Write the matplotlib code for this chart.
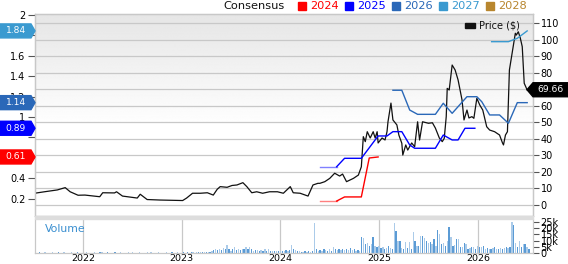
import numpy as np
import matplotlib
matplotlib.use("Agg")
import matplotlib.pyplot as plt
from matplotlib.patches import Polygon, Rectangle

plt.rcParams['font.family'] = ['DejaVu Sans']

# price ($), right axis
price_t = [2021.51, 2021.61, 2021.74, 2021.82, 2021.87, 2021.95, 2022.02, 2022.17, 2022.20, 2022.32,
           2022.34, 2022.40, 2022.55, 2022.58, 2022.65, 2022.78, 2023.01, 2023.05, 2023.11, 2023.19,
           2023.26, 2023.32, 2023.36, 2023.39, 2023.46, 2023.51, 2023.56, 2023.62, 2023.66, 2023.71,
           2023.76, 2023.82, 2023.89, 2023.97, 2024.03, 2024.10, 2024.13, 2024.20, 2024.28, 2024.33,
           2024.38, 2024.40, 2024.45, 2024.50, 2024.55, 2024.60, 2024.63, 2024.67, 2024.74, 2024.79,
           2024.82, 2024.84, 2024.86, 2024.88, 2024.91, 2024.94, 2024.96, 2024.98, 2024.99, 2025.03,
           2025.06, 2025.08, 2025.09, 2025.12, 2025.14, 2025.18, 2025.20, 2025.23, 2025.24, 2025.27,
           2025.29, 2025.33, 2025.36, 2025.39, 2025.41, 2025.44, 2025.50, 2025.54, 2025.57, 2025.61,
           2025.64, 2025.66, 2025.68, 2025.69, 2025.71, 2025.74, 2025.77, 2025.80, 2025.84, 2025.86,
           2025.89, 2025.91, 2025.94, 2025.96, 2025.99, 2026.02, 2026.05, 2026.09, 2026.12, 2026.17,
           2026.22, 2026.25, 2026.26, 2026.28, 2026.30, 2026.32, 2026.35, 2026.38, 2026.39, 2026.41,
           2026.43, 2026.45, 2026.47, 2026.50, 2026.52]
price_v = [7.1, 8.0, 9.1, 10.5, 8.0, 5.9, 6.0, 5.0, 7.4, 7.3,
           8.0, 5.4, 4.2, 6.5, 3.3, 3.0, 2.7, 4.2, 7.1, 7.1,
           7.4, 6.0, 9.5, 11.1, 10.7, 11.8, 12.1, 13.5, 11.1, 7.4,
           8.0, 7.1, 8.0, 8.0, 7.1, 11.1, 7.4, 7.1, 5.4, 12.1,
           13.1, 13.1, 14.1, 16.1, 19.2, 17.5, 18.7, 14.1, 16.1, 18.1,
           23.1, 41.3, 38.3, 44.3, 40.5, 44.3, 40.5, 44.3, 37.5, 40.5,
           39.3, 44.3, 50.3, 61.6, 51.4, 48.4, 42.3, 37.3, 30.2, 36.3,
           33.2, 37.5, 35.2, 50.3, 39.3, 50.3, 49.4, 49.7, 46.5, 40.5,
           38.3, 40.3, 53.4, 70.5, 69.5, 84.6, 81.6, 75.6, 63.5, 51.4,
           57.4, 52.6, 53.4, 52.4, 64.5, 60.4, 57.4, 47.3, 45.3, 44.3,
           42.3, 37.5, 36.3, 42.3, 44.3, 81.6, 92.7, 103.8, 102.7, 104.7,
           101.0, 95.7, 73.6, 69.5, 69.66]
last_price = 69.66

# consensus EPS estimates, left axis
cons_years = ['2024', '2025', '2026', '2027', '2028']
cons_colors = ['#ff0000', '#0000ff', '#2a68b8', '#3a9ad0', '#b8862e']
faded_colors = ['#ff8080', '#8080ff']
cons_2024_t = [2024.40, 2024.57, 2024.65, 2024.82, 2024.90, 2024.99]
cons_2024_v = [0.18, 0.18, 0.22, 0.22, 0.60, 0.61]
cons_2025_t = [2024.40, 2024.57, 2024.65, 2024.82, 2024.99, 2025.08, 2025.14, 2025.23, 2025.31,
               2025.36, 2025.57, 2025.65, 2025.74, 2025.80, 2025.87, 2025.97]
cons_2025_v = [0.515, 0.515, 0.597, 0.597, 0.815, 0.815, 0.857, 0.857, 0.727,
               0.695, 0.695, 0.824, 0.776, 0.776, 0.89, 0.89]
cons_2026_t = [2025.14, 2025.23, 2025.31, 2025.39, 2025.57, 2025.65, 2025.74, 2025.89, 2025.99,
               2026.04, 2026.12, 2026.22, 2026.31, 2026.40, 2026.50]
cons_2026_v = [1.261, 1.261, 1.068, 1.026, 1.026, 1.134, 1.036, 1.198, 1.198,
               1.149, 1.02, 1.02, 0.939, 1.14, 1.14]
cons_2027_t = [2026.14, 2026.31, 2026.40, 2026.50]
cons_2027_v = [1.735, 1.735, 1.768, 1.84]
badge_vals = [0.61, 0.89, 1.14, 1.84]

# weekly volume (thousands)
vol_2021 = [0.4, 0.3, 0.5, 0.3, 0.4, 0.6, 0.3, 0.4, 0.3, 0.5, 0.4, 0.3, 0.6, 0.4, 0.3, 0.5, 0.4,
            0.3, 0.4, 0.5, 0.3, 0.4, 0.6, 0.3, 0.4]
vol_2022 = [0.3, 0.4, 0.5, 0.3, 0.4, 0.3, 0.5, 0.4, 0.3, 0.6, 1.2, 0.4, 0.3, 0.5, 0.4, 0.3, 0.4,
            0.6, 0.3, 0.4, 0.5, 0.3, 0.4, 0.3, 0.5, 0.4, 0.6, 0.3, 0.4, 0.3, 0.5, 0.4, 0.3, 0.4,
            0.6, 0.3, 0.5, 0.4, 0.3, 0.4, 0.5, 0.3, 0.4, 0.3, 0.5, 0.4, 0.3, 0.6, 0.4, 0.3, 0.5, 0.4]
vol_2023 = [0.4, 0.5, 0.3, 0.6, 0.4, 0.5, 0.7, 0.4, 0.6, 0.5, 0.8, 0.6, 0.7, 0.9, 0.8, 1.0, 1.5,
            2.5, 3.0, 2.5, 3.5, 2.5, 4.0, 3.0, 6.5, 3.5, 2.0, 3.0, 4.5, 2.5, 3.0, 2.5, 3.5, 3.0,
            5.0, 3.0, 5.0, 3.0, 2.0, 2.5, 2.5, 2.0, 2.5, 2.0, 3.0, 2.0, 3.5, 2.0, 1.5, 2.0, 1.5, 1.5]
vol_2024 = [1.5, 2.0, 1.5, 2.5, 2.0, 2.5, 6.5, 3.0, 2.5, 1.5, 2.0, 1.0, 1.0, 1.5, 1.0, 1.5, 1.0,
            2.0, 24.0, 3.5, 2.0, 2.5, 2.0, 3.0, 2.5, 2.0, 3.0, 2.0, 5.0, 3.0, 2.5, 3.0, 2.5, 3.5,
            2.5, 3.0, 2.5, 4.0, 2.5, 3.0, 2.0, 2.5, 2.0, 13.0, 12.0, 7.0, 8.0, 6.0, 7.0, 13.0, 6.0, 5.0]
vol_2025 = [6.0, 4.0, 4.5, 3.5, 4.0, 6.0, 4.0, 3.5, 24.0, 18.0, 10.0, 10.0, 4.0, 3.5, 9.0, 4.0,
            9.0, 3.0, 17.0, 10.0, 6.0, 5.5, 14.0, 14.0, 12.0, 10.0, 8.0, 9.0, 7.0, 11.0, 6.0, 19.0,
            15.0, 7.0, 8.0, 6.0, 10.0, 21.0, 13.0, 6.0, 6.5, 11.0, 11.0, 5.0, 4.5, 8.0, 7.0, 3.5,
            4.0, 5.0, 5.0, 3.5]
vol_2026 = [6.0, 4.5, 5.0, 6.0, 3.5, 4.0, 3.0, 3.5, 4.0, 5.0, 3.5, 3.0, 4.0, 3.5, 4.0, 4.5, 4.0,
            5.0, 25.0, 23.0, 8.0, 5.0, 10.0, 5.0, 7.0, 7.0, 5.0, 3.0]

year_ticks = [2022, 2023, 2024, 2025, 2026]
x_min, x_max = 2021.514, 2026.559

W, H = 568, 264
fig = plt.figure(figsize=(W / 100, H / 100), dpi=100)


def frac(x0, y0, x1, y1):
    return [x0 / W, 1 - y1 / H, (x1 - x0) / W, (y1 - y0) / H]


ax_eps = fig.add_axes(frac(35, 14, 533, 216))
ax_price = ax_eps.twinx()
ax_price.set_zorder(ax_eps.get_zorder() - 1)
ax_eps.patch.set_visible(False)

# background gradient
grad = np.linspace(0.90, 1.0, 256)
grad = np.clip(np.concatenate([grad, np.ones(200)]), 0, 1)[:, None]
ax_price.imshow(np.repeat(grad, 2, axis=1), cmap='gray', vmin=0, vmax=1, aspect='auto',
                extent=[0, 1, 0, 1], transform=ax_price.transAxes, zorder=0)

ax_price.plot(price_t, price_v, color='#111111', lw=0.9, zorder=3)
ax_price.set_xlim(x_min, x_max)
ax_price.set_ylim(-6.65, 115.44)
price_ticks = list(range(0, 111, 10))
ax_price.set_yticks(price_ticks)
# the 70 label sits under the last-price badge
ax_price.set_yticklabels(['' if v == 70 else str(v) for v in price_ticks])
ax_price.set_xticks(year_ticks)
ax_price.set_axisbelow(True)
ax_price.grid(True, color='#c8c8c8', lw=0.9)
ax_price.tick_params(axis='y', length=4, width=0.8, color='#555555', labelsize=7, pad=1.5)
ax_price.tick_params(axis='x', length=0, labelbottom=False)

for t, v, c in [(cons_2024_t, cons_2024_v, 0), (cons_2025_t, cons_2025_v, 1),
                (cons_2026_t, cons_2026_v, 2), (cons_2027_t, cons_2027_v, 3)]:
    if c < 2:
        ax_eps.plot(t[:2], v[:2], color=faded_colors[c], lw=1.0)
        ax_eps.plot(t[1:], v[1:], color=cons_colors[c], lw=1.0)
    else:
        ax_eps.plot(t, v, color=cons_colors[c], lw=1.0)
ax_eps.set_xlim(x_min, x_max)
ax_eps.set_ylim(0.034, 2.005)
eps_ticks = [0.2, 0.4, 0.6, 0.8, 1.0, 1.2, 1.4, 1.6, 1.8, 2.0]
hidden = (0.6, 0.8, 1.8)  # covered by the badges
ax_eps.set_yticks(eps_ticks)
ax_eps.set_yticklabels(['' if v in hidden else f'{v:g}' for v in eps_ticks])
ax_eps.tick_params(axis='y', length=5, width=0.8, color='#555555', labelsize=7, pad=2)
ax_eps.tick_params(axis='x', length=0, labelbottom=False)
for ax in (ax_eps, ax_price):
    for s in ax.spines.values():
        s.set_color('#c8c8c8')
        s.set_linewidth(0.9)

# volume panel
ax_vol = fig.add_axes(frac(35, 219, 533, 253))
vols = [vol_2021, vol_2022, vol_2023, vol_2024, vol_2025, vol_2026]
week = 7 / 365.25
vt, vv = [], []
for yr, arr in zip(range(2021, 2027), vols):
    n = len(arr)
    if yr == 2021:
        t = 2022 - (n - np.arange(n)) * week
    else:
        t = yr + np.arange(n) * week
    vt.extend(t)
    vv.extend(arr)
bar_cols = ['#5b9bd5' if i % 2 == 0 else '#abcbe9' for i in range(len(vt))]
ax_vol.bar(vt, vv, width=0.013, color=bar_cols, zorder=2)
ax_vol.set_xlim(x_min, x_max)
ax_vol.set_ylim(0, 27.5)
ax_vol.set_xticks(year_ticks)
ax_vol.set_xticklabels([str(y) for y in year_ticks])
ax_vol.set_yticks([0, 5, 10, 15, 20, 25])
ax_vol.set_yticklabels(['0', '5k', '10k', '15k', '20k', '25k'])
ax_vol.yaxis.tick_right()
ax_vol.tick_params(axis='y', length=4, width=0.8, color='#555555', labelsize=7, pad=1.5)
ax_vol.tick_params(axis='x', length=0, labelsize=6.8, pad=0.5)
ax_vol.grid(True, axis='x', color='#c8c8c8', lw=0.9, zorder=0)
ax_vol.set_axisbelow(True)
for s in ax_vol.spines.values():
    s.set_color('#c8c8c8')
    s.set_linewidth(0.9)
ax_vol.spines['top'].set_visible(False)
ax_vol.text(0.02, 0.72, 'Volume', transform=ax_vol.transAxes, color='#3a8fd0',
            fontsize=7.8, va='center', ha='left')

fig.patches.append(Rectangle((35 / W, 1 - 219 / H), 498 / W, 3 / H, transform=fig.transFigure,
                             color='#dddddd', zorder=1))

# top legend
fig.text(285 / W, 1 - 6 / H, 'Consensus', fontsize=8.2, ha='right', va='center', color='#111111')
for i, (lab, col) in enumerate(zip(cons_years, cons_colors)):
    x0 = 298 + i * 47
    fig.patches.append(Rectangle((x0 / W, 1 - 9.5 / H), 8 / W, 8 / H, transform=fig.transFigure,
                                 color=col, zorder=1))
    fig.text((x0 + 12) / W, 1 - 6 / H, lab, fontsize=8.2, ha='left', va='center', color=col)

# price legend
fig.patches.append(Rectangle((465 / W, 1 - 27.5 / H), 10 / W, 5 / H, transform=fig.transFigure,
                             color='#111111', zorder=1))
fig.text(479 / W, 1 - 25 / H, 'Price ($)', fontsize=7, ha='left', va='center', color='#111111')

fig.canvas.draw()

# badges on the left axis
for v, col in zip(badge_vals, cons_colors[:4]):
    y = H - ax_eps.transData.transform((x_min, v))[1]
    pts = [(0, y - 7), (31, y - 7), (35, y), (31, y + 7), (0, y + 7)]
    fig.patches.append(Polygon([(px / W, 1 - py / H) for px, py in pts], closed=True,
                               transform=fig.transFigure, color=col, zorder=2))
    fig.text(16 / W, 1 - y / H, f'{v:.2f}', fontsize=6.6, color='white', ha='center',
             va='center', zorder=3)

# last price badge
y = H - ax_price.transData.transform((x_max, last_price))[1]
pts = [(527, y), (533, y - 7), (568, y - 7), (568, y + 7), (533, y + 7)]
fig.patches.append(Polygon([(px / W, 1 - py / H) for px, py in pts], closed=True,
                           transform=fig.transFigure, color='#000000', zorder=2))
fig.text(550 / W, 1 - y / H, f'{last_price:.2f}', fontsize=6.6, color='white', ha='center',
         va='center', zorder=3)

fig.savefig('out.png', dpi=100)
